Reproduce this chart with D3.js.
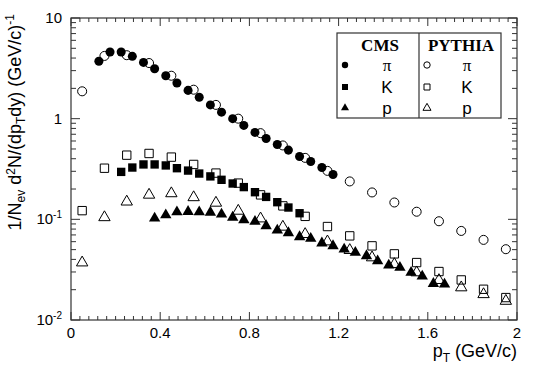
<!DOCTYPE html>
<html>
<head>
<meta charset="utf-8">
<script src="https://cdn.jsdelivr.net/npm/d3@7"></script>
<style>
  html, body { margin: 0; padding: 0; background: #fff; overflow: hidden; }
  svg { display: block; }
  text { font-family: "Liberation Sans", Arial, sans-serif; fill: #000; }
</style>
</head>
<body>
<div id="chart-area"><svg></svg></div>
<script>
// chart data
const cmsPiX = [0.125, 0.175, 0.225, 0.275, 0.325, 0.375, 0.425, 0.475, 0.525, 0.575, 0.625,
    0.675, 0.725, 0.775, 0.825, 0.875, 0.925, 0.975, 1.025, 1.075, 1.125, 1.175];
const cmsPiY = [3.72, 4.6, 4.6, 4.16, 3.62, 3.13, 2.67, 2.26, 1.91, 1.63, 1.37,
    1.16, 1.0, 0.857, 0.73, 0.636, 0.554, 0.487, 0.421, 0.375, 0.327, 0.279];

const cmsKX = [0.225, 0.275, 0.325, 0.375, 0.425, 0.475, 0.525, 0.575, 0.625,
    0.675, 0.725, 0.775, 0.825, 0.875, 0.925, 0.975, 1.025];
const cmsKY = [0.296, 0.327, 0.351, 0.351, 0.343, 0.322, 0.305, 0.285, 0.267,
    0.247, 0.227, 0.209, 0.186, 0.167, 0.148, 0.131, 0.115];

const cmsPX = [0.375, 0.425, 0.475, 0.525, 0.575, 0.625, 0.675, 0.725, 0.775, 0.825, 0.875,
    0.925, 0.975, 1.025, 1.075, 1.125, 1.175, 1.225, 1.275, 1.325, 1.375, 1.425,
    1.475, 1.525, 1.575, 1.625, 1.675];
const cmsPY = [0.105, 0.113, 0.121, 0.122, 0.121, 0.12, 0.115, 0.107, 0.101, 0.0973, 0.0881,
    0.0798, 0.075, 0.0685, 0.0659, 0.0593, 0.0557, 0.0516, 0.0479, 0.0443, 0.0395, 0.0358,
    0.034, 0.0303, 0.0278, 0.0235, 0.0232];

// PYTHIA points share one pT binning
const pyX = [0.05, 0.15, 0.25, 0.35, 0.45, 0.55, 0.65, 0.75, 0.85, 0.95,
    1.05, 1.15, 1.25, 1.35, 1.45, 1.55, 1.65, 1.75, 1.85, 1.95];
const pyPiY = [1.87, 4.2, 4.27, 3.57, 2.67, 1.94, 1.37, 1.0, 0.718, 0.542,
    0.408, 0.303, 0.238, 0.185, 0.147, 0.119, 0.0957, 0.0767, 0.0625, 0.0505];
const pyKY = [0.122, 0.322, 0.434, 0.451, 0.415, 0.351, 0.288, 0.229, 0.175, 0.136,
    0.107, 0.0848, 0.0685, 0.0545, 0.0454, 0.0372, 0.0303, 0.025, 0.0202, 0.0167];
const pyPY = [0.038, 0.107, 0.153, 0.179, 0.185, 0.169, 0.149, 0.124, 0.104, 0.0861,
    0.0728, 0.0615, 0.0505, 0.0427, 0.0366, 0.0303, 0.0254, 0.0215, 0.0184, 0.0158];

const xTicks = [0, 0.4, 0.8, 1.2, 1.6, 2];
const yTicks = [10, 1, 0.1, 0.01];
const yTickLabels = [["10", ""], ["1", ""], ["10", "-1"], ["10", "-2"]];

const width = 545, height = 369;
const svg = d3.select("#chart-area").select("svg")
    .attr("width", width).attr("height", height);

// frame position (ROOT pad margins)
const margin = { top: 18, right: 28, bottom: 49, left: 71 };
const innerWidth = width - margin.left - margin.right;
const innerHeight = height - margin.top - margin.bottom;
const g = svg.append("g").attr("transform", `translate(${margin.left},${margin.top})`);

const x = d3.scaleLinear().domain([0, 2]).range([0, innerWidth]);
const y = d3.scaleLog().domain([0.01, 10]).range([innerHeight, 0]);

const axisColor = "#333";

// ---- ticks on all four sides ----
const xMinor = d3.range(0, 51).map(i => i * 0.04);
xMinor.forEach((v, i) => {
    const len = i % 10 === 0 ? 8 : 4;
    g.append("line").attr("x1", x(v)).attr("x2", x(v))
        .attr("y1", innerHeight).attr("y2", innerHeight - len)
        .attr("stroke", axisColor);
    g.append("line").attr("x1", x(v)).attr("x2", x(v))
        .attr("y1", 0).attr("y2", len)
        .attr("stroke", axisColor);
});
const yMinor = [];
[0.01, 0.1, 1].forEach(d => { for (let k = 1; k <= 9; k++) yMinor.push({ v: d * k, major: k === 1 }); });
yMinor.push({ v: 10, major: true });
yMinor.forEach(t => {
    const len = t.major ? 9 : 5;
    g.append("line").attr("x1", 0).attr("x2", len)
        .attr("y1", y(t.v)).attr("y2", y(t.v)).attr("stroke", axisColor);
    g.append("line").attr("x1", innerWidth).attr("x2", innerWidth - len)
        .attr("y1", y(t.v)).attr("y2", y(t.v)).attr("stroke", axisColor);
});

// frame
g.append("rect").attr("width", innerWidth).attr("height", innerHeight)
    .attr("fill", "none").attr("stroke", axisColor).attr("stroke-width", 1.2);

// tick labels
g.selectAll(".xlab").data(xTicks).enter().append("text")
    .attr("class", "xlab")
    .attr("x", d => x(d)).attr("y", innerHeight + 18)
    .attr("text-anchor", "middle").style("font-size", "15px")
    .text(d => d3.format("~g")(d));

yTicks.forEach((v, i) => {
    const t = g.append("text")
        .attr("x", -9).attr("y", y(v) + 5)
        .attr("text-anchor", "end").style("font-size", "15px");
    t.append("tspan").text(yTickLabels[i][0]);
    if (yTickLabels[i][1]) {
        t.append("tspan").attr("dy", -6).style("font-size", "10px").text(yTickLabels[i][1]);
    }
});

// axis titles
const xt = svg.append("text").attr("x", margin.left + innerWidth).attr("y", 357)
    .attr("text-anchor", "end").style("font-size", "18px");
xt.append("tspan").text("p");
xt.append("tspan").attr("dy", 5).style("font-size", "12px").text("T");
xt.append("tspan").attr("dy", -5).text(" (GeV/c)");

const yt = svg.append("text")
    .attr("transform", `translate(21,${margin.top - 4}) rotate(-90)`)
    .attr("text-anchor", "end").style("font-size", "18px");
yt.append("tspan").text("1/N");
yt.append("tspan").attr("dy", 4).style("font-size", "12px").text("ev");
yt.append("tspan").attr("dy", -4).text(" d");
yt.append("tspan").attr("dy", -6).style("font-size", "12px").text("2");
yt.append("tspan").attr("dy", 6).text("N/(dp");
yt.append("tspan").attr("dy", 4).style("font-size", "12px").text("T");
yt.append("tspan").attr("dy", -4).text("dy) (GeV/c)");
yt.append("tspan").attr("dy", -7).style("font-size", "12px").text("-1");

// ---- markers ----
const shapes = { pi: d3.symbolCircle, K: d3.symbolSquare, p: d3.symbolTriangle };
const sizes = { pi: 64, K: 70, p: 56 };

function drawSeries(xs, ys, kind, filled) {
    g.append("g").selectAll("path").data(xs.map((v, i) => [v, ys[i]])).enter()
        .append("path")
        .attr("d", d3.symbol().type(shapes[kind]).size(sizes[kind]))
        .attr("transform", d => `translate(${x(d[0])},${y(d[1]) + (kind === "p" ? 1 : 0)})`)
        .attr("fill", filled ? "#000" : "none")
        .attr("stroke", filled ? "none" : "#000")
        .attr("stroke-width", 1);
}
drawSeries(cmsPiX, cmsPiY, "pi", true);
drawSeries(cmsKX, cmsKY, "K", true);
drawSeries(cmsPX, cmsPY, "p", true);
drawSeries(pyX, pyPiY, "pi", false);
drawSeries(pyX, pyKY, "K", false);
drawSeries(pyX, pyPY, "p", false);

// ---- legend ----
const leg = svg.append("g");
leg.append("rect").attr("x", 337).attr("y", 33).attr("width", 164).attr("height", 85)
    .attr("fill", "#fff").attr("stroke", axisColor).attr("stroke-width", 1.2);
leg.append("line").attr("x1", 419).attr("x2", 419).attr("y1", 33).attr("y2", 118)
    .attr("stroke", axisColor).attr("stroke-width", 1.2);
leg.append("text").attr("x", 380).attr("y", 51).attr("text-anchor", "middle")
    .style("font-family", "'Liberation Serif', 'Times New Roman', serif")
    .style("font-weight", "bold").style("font-size", "17px").text("CMS");
leg.append("text").attr("x", 461).attr("y", 51).attr("text-anchor", "middle")
    .style("font-family", "'Liberation Serif', 'Times New Roman', serif")
    .style("font-weight", "bold").style("font-size", "17px").text("PYTHIA");

const legRows = [
    { kind: "pi", label: "\u03c0", cy: 65 },
    { kind: "K", label: "K", cy: 87 },
    { kind: "p", label: "p", cy: 108 }
];
const legSizes = { pi: 32, K: 36, p: 28 };
[{ mx: 345, tx: 387, filled: true }, { mx: 427, tx: 467, filled: false }].forEach(col => {
    legRows.forEach(r => {
        leg.append("path")
            .attr("d", d3.symbol().type(shapes[r.kind]).size(legSizes[r.kind]))
            .attr("transform", `translate(${col.mx},${r.cy})`)
            .attr("fill", col.filled ? "#000" : "none")
            .attr("stroke", col.filled ? "none" : "#000");
        leg.append("text").attr("x", col.tx).attr("y", r.cy + 6)
            .attr("text-anchor", "middle")
            .style("font-size", "17px")
            .style("font-family", r.kind === "pi" ? "'Liberation Serif', serif" : null)
            .text(r.label);
    });
});
</script>
</body>
</html>
